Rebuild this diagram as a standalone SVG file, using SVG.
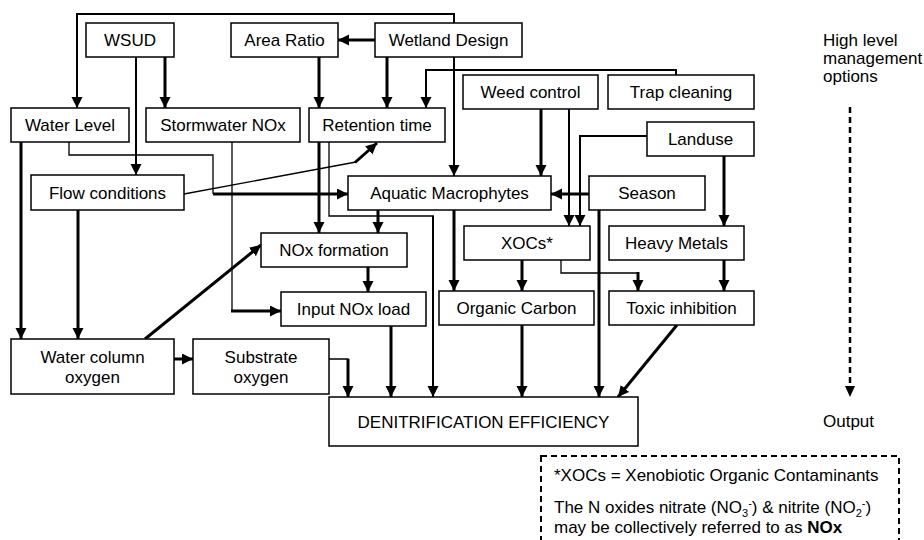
<svg xmlns="http://www.w3.org/2000/svg" width="924" height="540" viewBox="0 0 924 540">
<style>
  .box { fill: #fff; stroke: #000; stroke-width: 1.5; }
  .t { font-family: "Liberation Sans", Arial, sans-serif; font-size: 17px; fill: #000; text-anchor: middle; }
  .tl { font-family: "Liberation Sans", Arial, sans-serif; font-size: 17px; fill: #000; }
  .k { fill: none; stroke: #000; stroke-width: 3; }
  .m { fill: none; stroke: #000; stroke-width: 2; }
  .n { fill: none; stroke: #000; stroke-width: 1.3; }
  .ah { marker-end: url(#arr); }
</style>
<defs>
  <marker id="arr" markerUnits="userSpaceOnUse" markerWidth="12" markerHeight="12" refX="11" refY="5.5" orient="auto">
    <path d="M0,0 L11,5.5 L0,11 z" fill="#000"/>
  </marker>
</defs>
<rect width="924" height="540" fill="#fff"/>

<g id="connectors">
  <!-- top loop Wetland Design -> Water Level -->
  <polyline class="m ah" points="454,23 454,14 77,14 77,108"/>
  <!-- WSUD -> Stormwater NOx -->
  <line class="k ah" x1="165" y1="57" x2="165" y2="108"/>
  <!-- WSUD -> Flow conditions -->
  <line class="m ah" x1="136" y1="57" x2="136" y2="175"/>
  <!-- Wetland Design -> Area Ratio -->
  <line class="k ah" x1="375" y1="40" x2="338" y2="40"/>
  <!-- Area Ratio -> Retention time -->
  <line class="k ah" x1="319" y1="57" x2="319" y2="108"/>
  <!-- Wetland Design -> Retention time -->
  <line class="k ah" x1="387" y1="57" x2="387" y2="108"/>
  <!-- Wetland Design -> Aquatic Macrophytes -->
  <line class="m ah" x1="454" y1="57" x2="454" y2="176"/>
  <!-- Trap cleaning -> Retention time -->
  <polyline class="m ah" points="676,75 676,70 426,70 426,108"/>
  <!-- Weed control -> Aquatic Macrophytes -->
  <line class="k ah" x1="541" y1="109" x2="541" y2="176"/>
  <!-- Weed control -> XOCs -->
  <line class="m ah" x1="569" y1="109" x2="569" y2="226"/>
  <!-- Landuse -> XOCs -->
  <polyline class="m ah" points="647,136 580,136 580,226"/>
  <!-- Landuse -> Heavy Metals -->
  <line class="k ah" x1="724" y1="156" x2="724" y2="226"/>
  <!-- Season -> Aquatic Macrophytes -->
  <line class="k ah" x1="589" y1="194" x2="551" y2="194"/>
  <!-- Season -> Denitrification -->
  <line class="k ah" x1="599" y1="210" x2="599" y2="397"/>
  <!-- XOCs -> Organic Carbon -->
  <line class="k ah" x1="522" y1="260" x2="522" y2="291"/>
  <!-- XOCs -> Toxic inhibition -->
  <polyline class="n" points="561,260 561,273 638,273 638,280"/>
  <line class="k ah" x1="638" y1="272" x2="638" y2="291"/>
  <!-- Heavy Metals -> Toxic inhibition -->
  <line class="k ah" x1="724" y1="260" x2="724" y2="291"/>
  <!-- Toxic inhibition -> Denitrification -->
  <line class="k ah" x1="677" y1="325" x2="618" y2="397"/>
  <!-- Aquatic Macrophytes -> Organic Carbon -->
  <line class="k ah" x1="454" y1="210" x2="454" y2="291"/>
  <!-- Aquatic Macrophytes -> NOx formation -->
  <line class="k ah" x1="378" y1="210" x2="378" y2="233"/>
  <!-- Retention time -> NOx formation -->
  <line class="k ah" x1="319" y1="142" x2="319" y2="233"/>
  <!-- Retention time -> Denitrification -->
  <polyline class="n" points="329,142 329,216 434,216"/>
  <polyline class="m ah" points="433,216 433,397"/>
  <!-- Water Level -> Aquatic Macrophytes -->
  <polyline class="n" points="69,142 69,155 213,155 213,194"/>
  <polyline class="k ah" points="213,194 348,194"/>
  <!-- Water Level -> Water column oxygen -->
  <line class="k ah" x1="21" y1="142" x2="21" y2="339"/>
  <!-- Flow conditions -> Water column oxygen -->
  <line class="k ah" x1="78" y1="210" x2="78" y2="339"/>
  <!-- Flow conditions -> Retention time -->
  <line class="n" x1="184" y1="194" x2="356" y2="162"/>
  <line class="k ah" x1="355" y1="162.5" x2="377" y2="143"/>
  <!-- Stormwater NOx -> Input NOx load -->
  <line class="n" x1="232" y1="142" x2="232" y2="311"/>
  <line class="k ah" x1="231" y1="311" x2="281" y2="311"/>
  <!-- Water column oxygen -> NOx formation -->
  <line class="k ah" x1="145" y1="339" x2="261" y2="245"/>
  <!-- Water column oxygen -> Substrate oxygen -->
  <line class="k ah" x1="174" y1="359" x2="193" y2="359"/>
  <!-- Substrate oxygen -> Denitrification -->
  <polyline class="n" points="329,359 348,359 348,370"/>
  <line class="k ah" x1="348" y1="359" x2="348" y2="397"/>
  <!-- NOx formation -> Input NOx load -->
  <line class="k ah" x1="368" y1="267" x2="368" y2="292"/>
  <!-- Input NOx load -> Denitrification -->
  <line class="k ah" x1="391" y1="326" x2="391" y2="397"/>
  <!-- Organic Carbon -> Denitrification -->
  <line class="k ah" x1="522" y1="325" x2="522" y2="397"/>
  <!-- Level arrow -->
  <line x1="850" y1="107" x2="850" y2="388" stroke="#000" stroke-width="2.5" stroke-dasharray="6,4"/>
  <path d="M845,386 L855,386 L850,397 z" fill="#000"/>
</g>

<g id="wsud"><rect class="box" x="86" y="23" width="88" height="34"/><text class="t" x="130" y="46">WSUD</text></g>
<g id="area-ratio"><rect class="box" x="231" y="23" width="107" height="34"/><text class="t" x="284.5" y="46">Area Ratio</text></g>
<g id="wetland-design"><rect class="box" x="375" y="23" width="147" height="34"/><text class="t" x="448.5" y="46">Wetland Design</text></g>
<g id="water-level"><rect class="box" x="11" y="108" width="118" height="34"/><text class="t" x="70" y="131">Water Level</text></g>
<g id="stormwater-nox"><rect class="box" x="146" y="108" width="154" height="34"/><text class="t" x="223" y="131">Stormwater NOx</text></g>
<g id="retention-time"><rect class="box" x="309" y="108" width="136" height="34"/><text class="t" x="377" y="131">Retention time</text></g>
<g id="weed-control"><rect class="box" x="463" y="75" width="135" height="34"/><text class="t" x="530.5" y="98">Weed control</text></g>
<g id="trap-cleaning"><rect class="box" x="608" y="75" width="146" height="34"/><text class="t" x="681" y="98">Trap cleaning</text></g>
<g id="landuse"><rect class="box" x="647" y="122" width="107" height="34"/><text class="t" x="700.5" y="145">Landuse</text></g>
<g id="flow-conditions"><rect class="box" x="31" y="175" width="153" height="35"/><text class="t" x="107.5" y="198.5">Flow conditions</text></g>
<g id="aquatic-macrophytes"><rect class="box" x="348" y="176" width="203" height="34"/><text class="t" x="449.5" y="199">Aquatic Macrophytes</text></g>
<g id="season"><rect class="box" x="589" y="176" width="116" height="34"/><text class="t" x="647" y="199">Season</text></g>
<g id="xocs"><rect class="box" x="464" y="226" width="126" height="34"/><text class="t" x="527" y="249">XOCs*</text></g>
<g id="heavy-metals"><rect class="box" x="609" y="226" width="135" height="34"/><text class="t" x="676.5" y="249">Heavy Metals</text></g>
<g id="nox-formation"><rect class="box" x="261" y="233" width="146" height="34"/><text class="t" x="334" y="256">NOx formation</text></g>
<g id="input-nox-load"><rect class="box" x="281" y="292" width="145" height="34"/><text class="t" x="353.5" y="315">Input NOx load</text></g>
<g id="organic-carbon"><rect class="box" x="439" y="291" width="155" height="34"/><text class="t" x="516.5" y="314">Organic Carbon</text></g>
<g id="toxic-inhibition"><rect class="box" x="609" y="291" width="145" height="34"/><text class="t" x="681.5" y="314">Toxic inhibition</text></g>
<g id="water-column-oxygen"><rect class="box" x="11" y="339" width="163" height="55"/><text class="t" x="92.5" y="363">Water column</text><text class="t" x="92.5" y="383">oxygen</text></g>
<g id="substrate-oxygen"><rect class="box" x="193" y="339" width="136" height="55"/><text class="t" x="261" y="363">Substrate</text><text class="t" x="261" y="383">oxygen</text></g>
<g id="denitrification"><rect class="box" x="329" y="397" width="309" height="49"/><text class="t" x="483.5" y="428">DENITRIFICATION EFFICIENCY</text></g>

<g id="level-labels">
  <text class="tl" x="823" y="46">High level</text>
  <text class="tl" x="823" y="64">management</text>
  <text class="tl" x="823" y="82">options</text>
  <text class="tl" x="823" y="427">Output</text>
</g>

<g id="legend">
  <rect x="541" y="456" width="358" height="110" fill="none" stroke="#000" stroke-width="2" stroke-dasharray="6,4"/>
  <text class="tl" x="554" y="481">*XOCs = Xenobiotic Organic Contaminants</text>
  <text class="tl" x="554" y="513">The N oxides nitrate (NO<tspan font-size="11" dy="4">3</tspan><tspan font-size="11" dy="-10">-</tspan><tspan dy="6">) &amp; nitrite (NO</tspan><tspan font-size="11" dy="4">2</tspan><tspan font-size="11" dy="-10">-</tspan><tspan dy="6">)</tspan></text>
  <text class="tl" x="554" y="533">may be collectively referred to as <tspan font-weight="bold">NOx</tspan></text>
</g>
</svg>
